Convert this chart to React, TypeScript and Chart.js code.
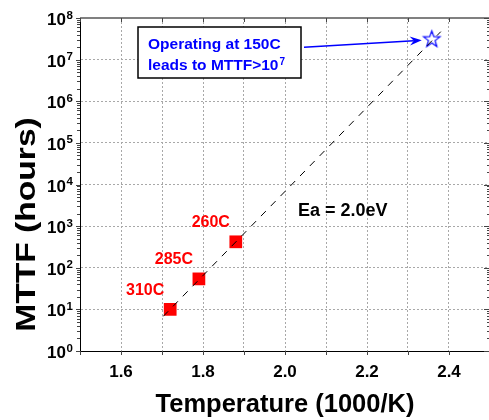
import React, { useEffect, useRef } from 'react';
import { Chart, registerables } from 'chart.js';

Chart.register(...registerables);

const FONT = 'Arial, "Liberation Sans", Helvetica, sans-serif';

// ---- data ----
const xTickValues = [1.6, 1.8, 2.0, 2.2, 2.4];
const xTickLabels = ['1.6', '1.8', '2.0', '2.2', '2.4'];
const yDecadeExponents = [0, 1, 2, 3, 4, 5, 6, 7, 8];

const measuredX = [1.72, 1.79, 1.88];
const measuredY = [10, 54, 420];
const measuredLabels = ['310C', '285C', '260C'];

const projectedX = [2.358];
const projectedY = [3.1e7];

const fitX = [1.703, 2.38];
const fitY = [6.8, 4.7e7];

const xTitle = 'Temperature (1000/K)';
const yTitle = 'MTTF (hours)';
const eaLabel = 'Ea = 2.0eV';
const calloutLines = ['Operating at 150C', 'leads to MTTF>10'];
const calloutSup = '7';

function makeStar(): HTMLCanvasElement {
  const c = document.createElement('canvas');
  c.width = 21;
  c.height = 21;
  const g = c.getContext('2d')!;
  const cx = 10.5, cy = 10.8, R = 8.6, r = 3.5;
  g.beginPath();
  for (let i = 0; i < 10; i++) {
    const rad = i % 2 === 0 ? R : r;
    const a = -Math.PI / 2 + (i * Math.PI) / 5;
    const px = cx + rad * Math.cos(a);
    const py = cy + rad * Math.sin(a);
    if (i === 0) g.moveTo(px, py);
    else g.lineTo(px, py);
  }
  g.closePath();
  g.strokeStyle = '#0000ff';
  g.lineWidth = 1.2;
  g.stroke();
  return c;
}

const overlay = {
  id: 'overlay',
  afterDraw(chart: any) {
    const { ctx, chartArea: a, scales } = chart;
    const x = scales.x;
    const y = scales.y;
    ctx.save();

    // top / right frame
    ctx.strokeStyle = '#808080';
    ctx.lineWidth = 2;
    ctx.beginPath();
    ctx.moveTo(a.left, a.top);
    ctx.lineTo(a.right, a.top);
    ctx.lineTo(a.right, a.bottom);
    ctx.stroke();

    // tick marks
    ctx.strokeStyle = '#444';
    ctx.lineWidth = 1;
    ctx.beginPath();
    for (let i = 15; i <= 25; i++) {
      const px = Math.round(x.getPixelForValue(i / 10)) + 0.5;
      ctx.moveTo(px, a.bottom);
      ctx.lineTo(px, a.bottom + 4);
      ctx.moveTo(px, a.top);
      ctx.lineTo(px, a.top + 4);
    }
    yDecadeExponents.forEach((e) => {
      const d = Math.pow(10, e);
      const py = Math.round(y.getPixelForValue(d)) + 0.5;
      ctx.moveTo(a.left - 4, py);
      ctx.lineTo(a.left, py);
      ctx.moveTo(a.right - 6, py);
      ctx.lineTo(a.right, py);
      if (e < 8) {
        for (let m = 2; m <= 9; m++) {
          const pm = Math.round(y.getPixelForValue(m * d)) + 0.5;
          ctx.moveTo(a.left - 3, pm);
          ctx.lineTo(a.left, pm);
          ctx.moveTo(a.right - 3, pm);
          ctx.lineTo(a.right, pm);
        }
      }
    });
    ctx.stroke();

    // y tick labels with superscripts
    ctx.fillStyle = '#000';
    yDecadeExponents.forEach((e) => {
      const py = y.getPixelForValue(Math.pow(10, e));
      ctx.font = `bold 17px ${FONT}`;
      ctx.textAlign = 'right';
      ctx.textBaseline = 'alphabetic';
      ctx.fillText('10', a.left - 14, py + 7);
      ctx.font = `bold 11.5px ${FONT}`;
      ctx.textAlign = 'left';
      ctx.fillText(String(e), a.left - 13.5, py + 0.5);
    });

    // y title (stretched)
    ctx.save();
    ctx.translate(35, (a.top + a.bottom) / 2 + 40);
    ctx.rotate(-Math.PI / 2);
    ctx.scale(1.2, 1);
    ctx.font = `bold 28px ${FONT}`;
    ctx.textAlign = 'center';
    ctx.textBaseline = 'alphabetic';
    ctx.fillText(yTitle, 0, 0);
    ctx.restore();

    // point labels
    ctx.font = `bold 16px ${FONT}`;
    ctx.fillStyle = '#ff0000';
    ctx.textAlign = 'center';
    measuredLabels.forEach((t, i) => {
      const px = x.getPixelForValue(measuredX[i]);
      const py = y.getPixelForValue(measuredY[i]);
      ctx.fillText(t, px - 25, py - 14.5);
    });

    // Ea label
    ctx.font = `bold 18px ${FONT}`;
    ctx.fillStyle = '#000';
    ctx.fillText(eaLabel, x.getPixelForValue(2.141), y.getPixelForValue(1750));

    // callout box
    const bx = 138, by = 27, bw = 163, bh = 51;
    ctx.fillStyle = '#fff';
    ctx.fillRect(bx, by, bw, bh);
    ctx.strokeStyle = '#000';
    ctx.lineWidth = 1.5;
    ctx.strokeRect(bx, by, bw, bh);
    ctx.fillStyle = '#0000ff';
    ctx.textAlign = 'left';
    ctx.font = `bold 15.5px ${FONT}`;
    ctx.fillText(calloutLines[0], 148, 48.5);
    ctx.fillText(calloutLines[1], 148, 70);
    const w2 = ctx.measureText(calloutLines[1]).width;
    ctx.font = `bold 10px ${FONT}`;
    ctx.fillText(calloutSup, 148 + w2 + 1, 65);

    // arrow to star
    const sx = x.getPixelForValue(projectedX[0]);
    const sy = y.getPixelForValue(projectedY[0]);
    const tipX = sx - 10, tipY = sy + 1.2;
    const stX = bx + bw + 3, stY = 47.3;
    const ang = Math.atan2(tipY - stY, tipX - stX);
    ctx.strokeStyle = '#0000ff';
    ctx.lineWidth = 1.5;
    ctx.beginPath();
    ctx.moveTo(stX, stY);
    ctx.lineTo(tipX - 8 * Math.cos(ang), tipY - 8 * Math.sin(ang));
    ctx.stroke();
    const hl = 12, hw = 4.5;
    const bxh = tipX - hl * Math.cos(ang), byh = tipY - hl * Math.sin(ang);
    ctx.beginPath();
    ctx.moveTo(tipX, tipY);
    ctx.lineTo(bxh + hw * Math.sin(ang), byh - hw * Math.cos(ang));
    ctx.lineTo(tipX - 8 * Math.cos(ang), tipY - 8 * Math.sin(ang));
    ctx.lineTo(bxh - hw * Math.sin(ang), byh + hw * Math.cos(ang));
    ctx.closePath();
    ctx.fillStyle = '#0000ff';
    ctx.fill();

    ctx.restore();
  },
};

export default function App() {
  const ref = useRef<HTMLCanvasElement>(null);

  useEffect(() => {
    if (!ref.current) return;
    const star = makeStar();
    const chart = new Chart(ref.current, {
      type: 'scatter',
      data: {
        datasets: [
          {
            label: 'fit',
            data: fitX.map((v, i) => ({ x: v, y: fitY[i] })),
            showLine: true,
            borderColor: '#000',
            borderWidth: 1,
            borderDash: [7, 7],
            pointRadius: 0,
          },
          {
            label: 'measured',
            data: measuredX.map((v, i) => ({ x: v, y: measuredY[i] })),
            pointStyle: 'rect',
            pointRadius: 9,
            backgroundColor: '#ff0000',
            borderColor: '#ff0000',
            borderWidth: 0,
          },
          {
            label: 'projected',
            data: projectedX.map((v, i) => ({ x: v, y: projectedY[i] })),
            pointStyle: star as any,
            pointRadius: 9,
          },
        ],
      },
      options: {
        responsive: false,
        animation: false,
        events: [],
        layout: { autoPadding: false, padding: { top: 18, right: 1, left: 0, bottom: 0 } },
        plugins: {
          legend: { display: false },
          tooltip: { enabled: false },
        },
        scales: {
          x: {
            type: 'linear',
            min: 1.5,
            max: 2.5,
            afterFit: (s: any) => {
              s.height = 69;
              s.paddingLeft = 0;
              s.paddingRight = 0;
            },
            ticks: {
              stepSize: 0.1,
              autoSkip: false,
              maxRotation: 0,
              padding: 11,
              color: '#000',
              font: { family: FONT, size: 17, weight: 'bold' },
              callback: (v: any) => {
                const i = xTickValues.findIndex((t) => Math.abs(t - Number(v)) < 1e-6);
                return i >= 0 ? xTickLabels[i] : '';
              },
            },
            grid: {
              drawTicks: false,
              lineWidth: 1,
              color: (c: any) => {
                const t = Math.round(Number(c.tick?.value) * 10);
                return t === 15 || t === 25 ? 'rgba(0,0,0,0)' : '#a8a8a8';
              },
            },
            border: { display: true, color: '#000', width: 1, dash: [2, 2] },
            title: {
              display: true,
              text: xTitle,
              color: '#000',
              font: { family: FONT, size: 25.5, weight: 'bold' },
              padding: { top: 0, bottom: 0 },
            },
          },
          y: {
            type: 'logarithmic',
            min: 1,
            max: 1e8,
            afterFit: (s: any) => {
              s.width = 80;
              s.paddingTop = 0;
              s.paddingBottom = 0;
            },
            afterBuildTicks: (s: any) => {
              s.ticks = yDecadeExponents.map((e) => ({ value: Math.pow(10, e), major: true }));
            },
            ticks: { display: false },
            grid: {
              drawTicks: false,
              lineWidth: 1,
              color: (c: any) => {
                const v = Number(c.tick?.value);
                return v === 1 || v === 1e8 ? 'rgba(0,0,0,0)' : '#a8a8a8';
              },
            },
            border: { display: true, color: '#000', width: 1, dash: [2, 2] },
          },
        },
      },
      plugins: [overlay],
    });
    return () => chart.destroy();
  }, []);

  return (
    <div style={{ position: 'fixed', left: 0, top: 0, width: 489, height: 420, overflow: 'hidden', background: '#fff' }}>
      <canvas ref={ref} width={491} height={420} style={{ display: 'block' }} />
    </div>
  );
}
